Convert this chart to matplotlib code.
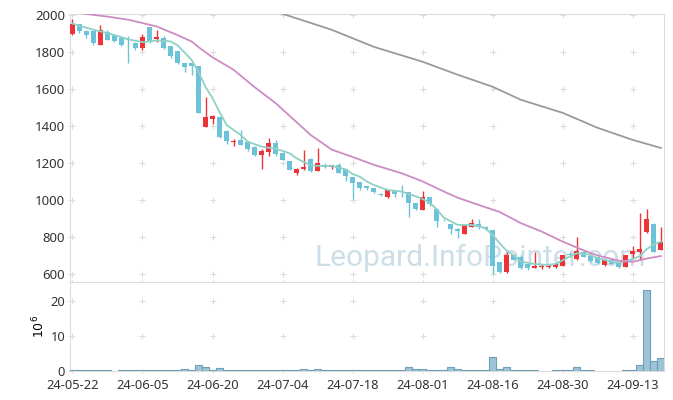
import numpy as np
import matplotlib
matplotlib.use("Agg")
import matplotlib.pyplot as plt

plt.rcParams['font.family'] = ['Noto Sans', 'DejaVu Sans']

# daily candles (index 0 = 24-05-22), prices
opens = [1897, 1951, 1913, 1910, 1838, 1906, 1888, 1874, 1870, 1850,
         1818, 1933, 1867, 1877, 1829, 1802, 1737, 1742, 1724, 1396,
         1436, 1450, 1373, 1312, 1324, 1315, 1287, 1243, 1261, 1310,
         1256, 1211, 1148, 1168, 1222, 1158, 1189, 1180, 1188, 1166,
         1123, 1097, 1076, 1065, 1033, 1018, 1052, 1045, 1043, 982,
         946, 1016, 951, 893, 870, 845, 818, 856, 870, 856,
         838, 665, 612, 703, 690, 652, 634, 638, 636, 636,
         645, 705, 679, 721, 697, 690, 647, 676, 658, 640,
         708, 721, 826, 870, 730]
highs = [1977, 1951, 1915, 1912, 1946, 1915, 1895, 1883, 1886, 1852,
         1896, 1933, 1919, 1886, 1831, 1805, 1740, 1744, 1724, 1555,
         1459, 1450, 1375, 1331, 1378, 1317, 1289, 1276, 1334, 1322,
         1258, 1213, 1170, 1270, 1224, 1279, 1200, 1189, 1200, 1168,
         1125, 1099, 1078, 1067, 1035, 1060, 1054, 1081, 1045, 984,
         1047, 1018, 953, 895, 872, 847, 867, 897, 895, 858,
         840, 667, 719, 705, 703, 654, 721, 652, 654, 654,
         705, 718, 802, 728, 701, 692, 678, 678, 660, 705,
         751, 928, 950, 873, 852]
lows = [1888, 1901, 1874, 1834, 1834, 1862, 1854, 1830, 1737, 1811,
        1811, 1848, 1854, 1815, 1768, 1735, 1690, 1676, 1470, 1394,
        1411, 1336, 1301, 1290, 1295, 1265, 1238, 1166, 1238, 1240,
        1214, 1160, 1135, 1160, 1152, 1156, 1175, 1165, 1146, 1103,
        1005, 1052, 1052, 1038, 1020, 1010, 1018, 1018, 907, 946,
        944, 967, 856, 888, 816, 793, 816, 854, 845, 840,
        600, 608, 608, 674, 629, 624, 632, 628, 630, 634,
        643, 690, 677, 690, 665, 656, 645, 652, 634, 638,
        686, 676, 824, 719, 728]
closes = [1951, 1910, 1893, 1850, 1919, 1865, 1859, 1834, 1865, 1818,
          1879, 1852, 1881, 1818, 1775, 1737, 1719, 1724, 1472, 1447,
          1454, 1342, 1317, 1317, 1297, 1276, 1243, 1267, 1307, 1250,
          1216, 1162, 1168, 1178, 1158, 1202, 1180, 1189, 1148, 1131,
          1094, 1067, 1063, 1043, 1025, 1052, 1031, 1041, 982, 951,
          1016, 978, 888, 890, 843, 831, 865, 874, 852, 842,
          643, 612, 701, 676, 631, 634, 643, 645, 645, 652,
          703, 703, 724, 694, 670, 658, 676, 654, 636, 703,
          726, 735, 896, 721, 773]
# volume in millions, None = no bar drawn
volume = [0.15, 0.15, 0.15, 0.15, 0.15, 0.15, None, 0.15, 0.15, 0.15,
          0.15, 0.15, 0.15, 0.15, 0.15, 0.15, 0.5, 0.15, 1.8, 1.15,
          0.4, 0.95, 0.4, 0.15, 0.15, 0.15, 0.15, 0.15, 0.4, 0.15,
          0.15, 0.4, 0.15, 0.7, 0.15, 0.7, 0.15, 0.15, 0.15, 0.15,
          0.3, 0.15, 0.15, 0.15, 0.15, 0.15, 0.15, 0.15, 1.05, 0.5,
          0.5, 0.15, 0.4, 0.15, 1.0, 0.5, 0.15, 0.15, 0.15, 0.15,
          3.9, 0.5, 1.0, 0.15, 0.15, 0.15, 0.4, None, None, 0.15,
          0.4, 0.15, 1.0, 0.15, 0.15, None, None, None, None, 0.15,
          0.15, 1.6, 23.0, 2.8, 3.6]

# moving averages read at sample days
ma5_x = [0, 3, 5, 8, 10, 12, 14, 15, 17, 18, 19, 20, 21, 22, 24, 25, 27, 29, 30,
         31, 32, 33, 34, 35, 37, 39, 40, 41, 42, 43, 45, 47, 49, 50, 51, 52, 53,
         55, 57, 58, 59, 60, 61, 62, 63, 64, 66, 68, 69, 70, 71, 72, 73, 74, 75,
         77, 78, 79, 80, 81, 82, 83, 84]
ma5_y = [1952, 1919, 1901, 1867, 1852, 1861, 1856, 1835, 1757, 1690, 1610, 1550,
         1475, 1405, 1351, 1315, 1288, 1276, 1265, 1252, 1225, 1205, 1189, 1184,
         1184, 1165, 1140, 1126, 1100, 1081, 1054, 1045, 1020, 1005, 985, 950,
         905, 865, 865, 860, 845, 810, 766, 725, 700, 667, 654, 649, 655, 675,
         694, 712, 710, 703, 685, 667, 661, 670, 680, 697, 735, 760, 775]
ma20_x = [0, 2, 5, 8, 12, 15, 17, 18, 20, 23, 26, 29, 32, 34, 37, 40, 43, 47,
          50, 53, 55, 58, 61, 64, 67, 70, 73, 75, 78, 80, 81, 82, 84]
ma20_y = [2015, 2004, 1990, 1973, 1937, 1890, 1856, 1825, 1770, 1703, 1609,
          1523, 1420, 1351, 1272, 1232, 1190, 1144, 1100, 1046, 1012, 973, 935,
          875, 829, 775, 727, 700, 672, 666, 675, 684, 697]
ma60_x = [29, 30, 37, 43, 50, 55, 60, 64, 70, 75, 80, 84]
ma60_y = [2020, 2005, 1919, 1827, 1746, 1676, 1611, 1541, 1470, 1389, 1324, 1281]

tick_pos = [0, 10, 20, 30, 40, 50, 60, 70, 80]
tick_labels = ["24-05-22", "24-06-05", "24-06-20", "24-07-04", "24-07-18",
               "24-08-01", "24-08-16", "24-08-30", "24-09-13"]

UP = "#ec3338"
DOWN = "#6cc2d9"
GRID = "#dcdcdc"

fig = plt.figure(figsize=(6.73, 4.0), dpi=100)
ax = fig.add_axes([70 / 673, 1 - 282 / 400, 594 / 673, 268 / 400])
axv = fig.add_axes([70 / 673, 1 - 371 / 400, 594 / 673, 89 / 400])

x = np.arange(len(opens))
o = np.array(opens, float)
c = np.array(closes, float)
up = c >= o
cols = np.where(up, UP, DOWN)

ax.vlines(x, lows, highs, colors=cols, lw=1.0, zorder=3)
body_h = np.maximum(np.abs(c - o), 3)
ax.bar(x, body_h, bottom=np.minimum(o, c), width=0.72, color=cols,
       linewidth=0, zorder=4)

ax.plot(ma5_x, ma5_y, color="#8ed1c6", lw=1.3, zorder=5)
ax.plot(ma20_x, ma20_y, color="#cc8cc3", lw=1.3, zorder=5)
ax.plot(ma60_x, ma60_y, color="#9a9a9a", lw=1.3, zorder=5)

ax.text(34.6, 687, "Leopard.InfoPointer.com", fontsize=21.5, color="#bcd3df",
        alpha=0.75, ha="left", va="center", family=["Roboto", "DejaVu Sans"],
        zorder=2)

xlim = (-0.35, 84.45)
ax.set_xlim(*xlim)
ax.set_ylim(557, 2004)
ax.set_yticks(range(600, 2001, 200))
ax.set_xticks(tick_pos)
ax.set_xticklabels([])

vx = [i for i, v in enumerate(volume) if v is not None]
vv = [v for v in volume if v is not None]
axv.bar(vx, vv, width=1.0, color="#9dc4d6", edgecolor="#6f9fb6", lw=0.8,
        zorder=3)
axv.set_xlim(*xlim)
axv.set_ylim(0, 25.4)
axv.set_yticks([0, 10, 20])
axv.set_xticks(tick_pos)
axv.set_xticklabels(tick_labels)
axv.set_ylabel("$10^6$", fontsize=9, labelpad=2)

for a, yt in ((ax, range(600, 2001, 200)), (axv, [10, 20])):
    gx, gy = np.meshgrid(tick_pos, list(yt))
    a.scatter(gx.ravel(), gy.ravel(), marker="+", s=18, color=GRID, lw=0.8,
              zorder=1)
    for s in a.spines.values():
        s.set_color(GRID)
    a.tick_params(axis="both", colors="#333333", labelsize=9.5, length=3,
                  direction="inout", pad=2)
    a.tick_params(axis="both", color=GRID)

axv.tick_params(axis="x", labelsize=9.3, pad=4)
axv.tick_params(axis="y", labelsize=9.3)

plt.savefig("out.png", dpi=100)
